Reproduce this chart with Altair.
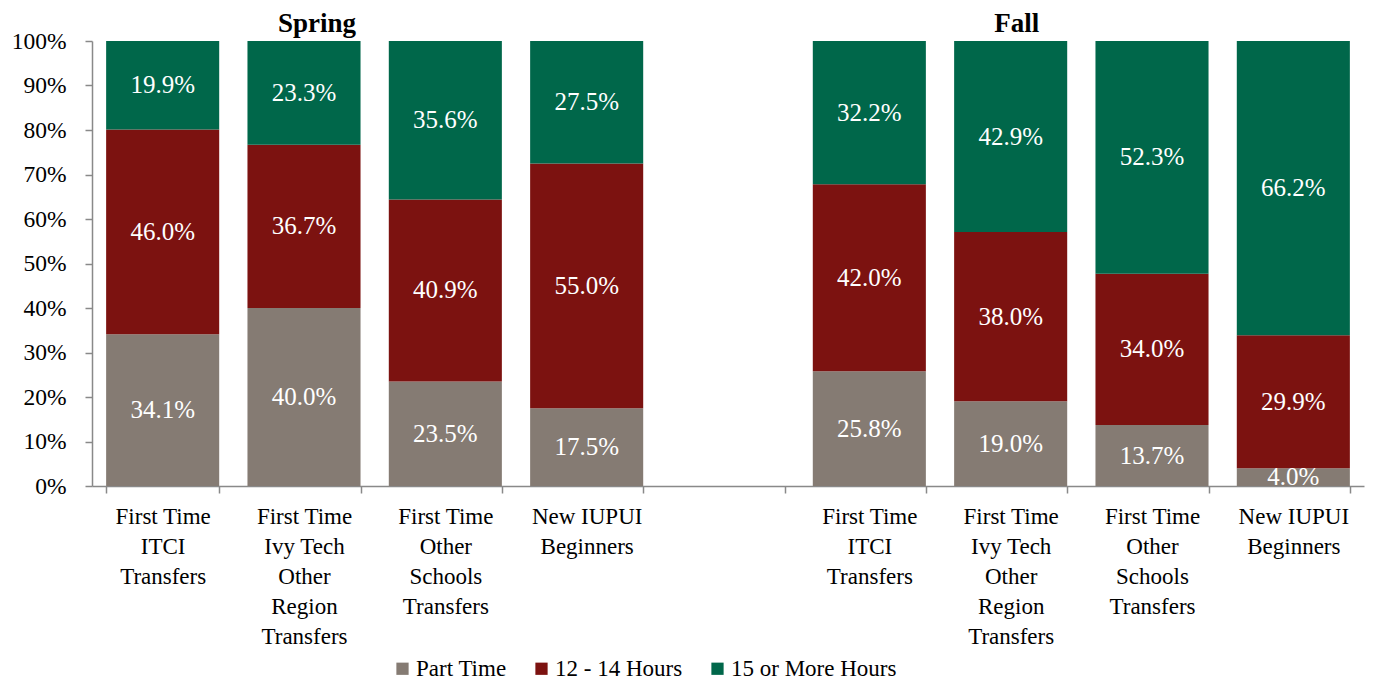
import altair as alt
import pandas as pd

# Category keys: '|' separates label lines, '~' marks the fall copy / the empty gap slot
cat_keys = [
    "First Time|ITCI|Transfers",
    "First Time|Ivy Tech|Other|Region|Transfers",
    "First Time|Other|Schools|Transfers",
    "New IUPUI|Beginners",
    "~",
    "First Time|ITCI|Transfers~",
    "First Time|Ivy Tech|Other|Region|Transfers~",
    "First Time|Other|Schools|Transfers~",
    "New IUPUI|Beginners~",
]
bar_cats = [c for c in cat_keys if c != "~"]

series_names = ["Part Time", "12 - 14 Hours", "15 or More Hours"]
part_time = [34.1, 40.0, 23.5, 17.5, 25.8, 19.0, 13.7, 4.0]
hours_12_14 = [46.0, 36.7, 40.9, 55.0, 42.0, 38.0, 34.0, 29.9]
hours_15_plus = [19.9, 23.3, 35.6, 27.5, 32.2, 42.9, 52.3, 66.2]
series_values = [part_time, hours_12_14, hours_15_plus]
colors = ["#857B73", "#7C1210", "#00674A"]

season_titles = ["Spring", "Fall"]
season_anchor = [cat_keys[1], cat_keys[6]]

rows = []
for i, cat in enumerate(bar_cats):
    for j, name in enumerate(series_names):
        rows.append({"cat": cat, "series": name, "ord": j, "value": series_values[j][i]})
df = pd.DataFrame(rows)

FONT = "'Times New Roman', 'Liberation Serif', serif"
AXIS_GRAY = "#898989"

x_enc = alt.X(
    "cat:N",
    scale=alt.Scale(domain=cat_keys, paddingInner=0.2, paddingOuter=0.1),
    axis=alt.Axis(
        title=None,
        labelAngle=0,
        labelExpr="split(replace(datum.label, '~', ''), '|')",
        labelFont=FONT,
        labelFontSize=23,
        labelColor="black",
        labelLineHeight=30,
        labelBaseline="top",
        labelPadding=12,
        labelOverlap=False,
        labelLimit=0,
        tickBand="extent",
        tickSize=7,
        tickColor=AXIS_GRAY,
        domainColor=AXIS_GRAY,
        domainWidth=1.5,
        tickWidth=1.5,
    ),
)

y_scale = alt.Scale(domain=[0, 1], nice=False)
y_axis = alt.Axis(
    title=None,
    values=[i / 10 for i in range(11)],
    format=".0%",
    grid=False,
    labelFont=FONT,
    labelFontSize=23.5,
    labelColor="black",
    labelPadding=19,
    tickSize=7,
    tickColor=AXIS_GRAY,
    domainColor=AXIS_GRAY,
    domainWidth=1.5,
    tickWidth=1.5,
)

base = alt.Chart(df).transform_stack(
    stack="value",
    groupby=["cat"],
    as_=["y0", "y1"],
    sort=[alt.SortField("ord", order="ascending")],
    offset="normalize",
).transform_calculate(
    mid="(datum.y0 + datum.y1) / 2",
    lbl="format(datum.value, '.1f') + '%'",
)

bars = base.mark_bar().encode(
    x=x_enc,
    y=alt.Y("y0:Q", scale=y_scale, axis=y_axis),
    y2="y1:Q",
    color=alt.Color(
        "series:N",
        scale=alt.Scale(domain=series_names, range=colors),
        legend=alt.Legend(
            title=None,
            orient="none",
            direction="horizontal",
            legendX=299,
            legendY=616,
            symbolType="square",
            symbolSize=150,
            symbolStrokeWidth=0,
            labelFont=FONT,
            labelFontSize=23,
            labelColor="black",
            labelOffset=2,
            labelLimit=0,
            columnPadding=23,
            padding=0,
        ),
    ),
)

labels = base.mark_text(
    color="white", font=FONT, fontSize=25, baseline="middle", align="center"
).encode(
    x=alt.X("cat:N"),
    y=alt.Y("mid:Q"),
    text="lbl:N",
)

titles_df = pd.DataFrame({"cat": season_anchor, "title": season_titles})
spring_title = alt.Chart(titles_df[titles_df.title == "Spring"]).mark_text(
    font=FONT, fontSize=27, fontWeight="bold", color="black", baseline="alphabetic", dx=13
).encode(x=alt.X("cat:N"), y=alt.value(-9), text="title:N")
fall_title = alt.Chart(titles_df[titles_df.title == "Fall"]).mark_text(
    font=FONT, fontSize=27, fontWeight="bold", color="black", baseline="alphabetic", dx=6
).encode(x=alt.X("cat:N"), y=alt.value(-9), text="title:N")

chart = alt.layer(bars, labels, spring_title, fall_title).properties(
    width=1272,
    height=445,
    padding={"left": 84, "top": 33, "right": 1, "bottom": 198},
    autosize=alt.AutoSizeParams(type="none"),
).configure_view(stroke=None)

chart.save("out.html", embed_options={"renderer": "svg", "actions": False})
